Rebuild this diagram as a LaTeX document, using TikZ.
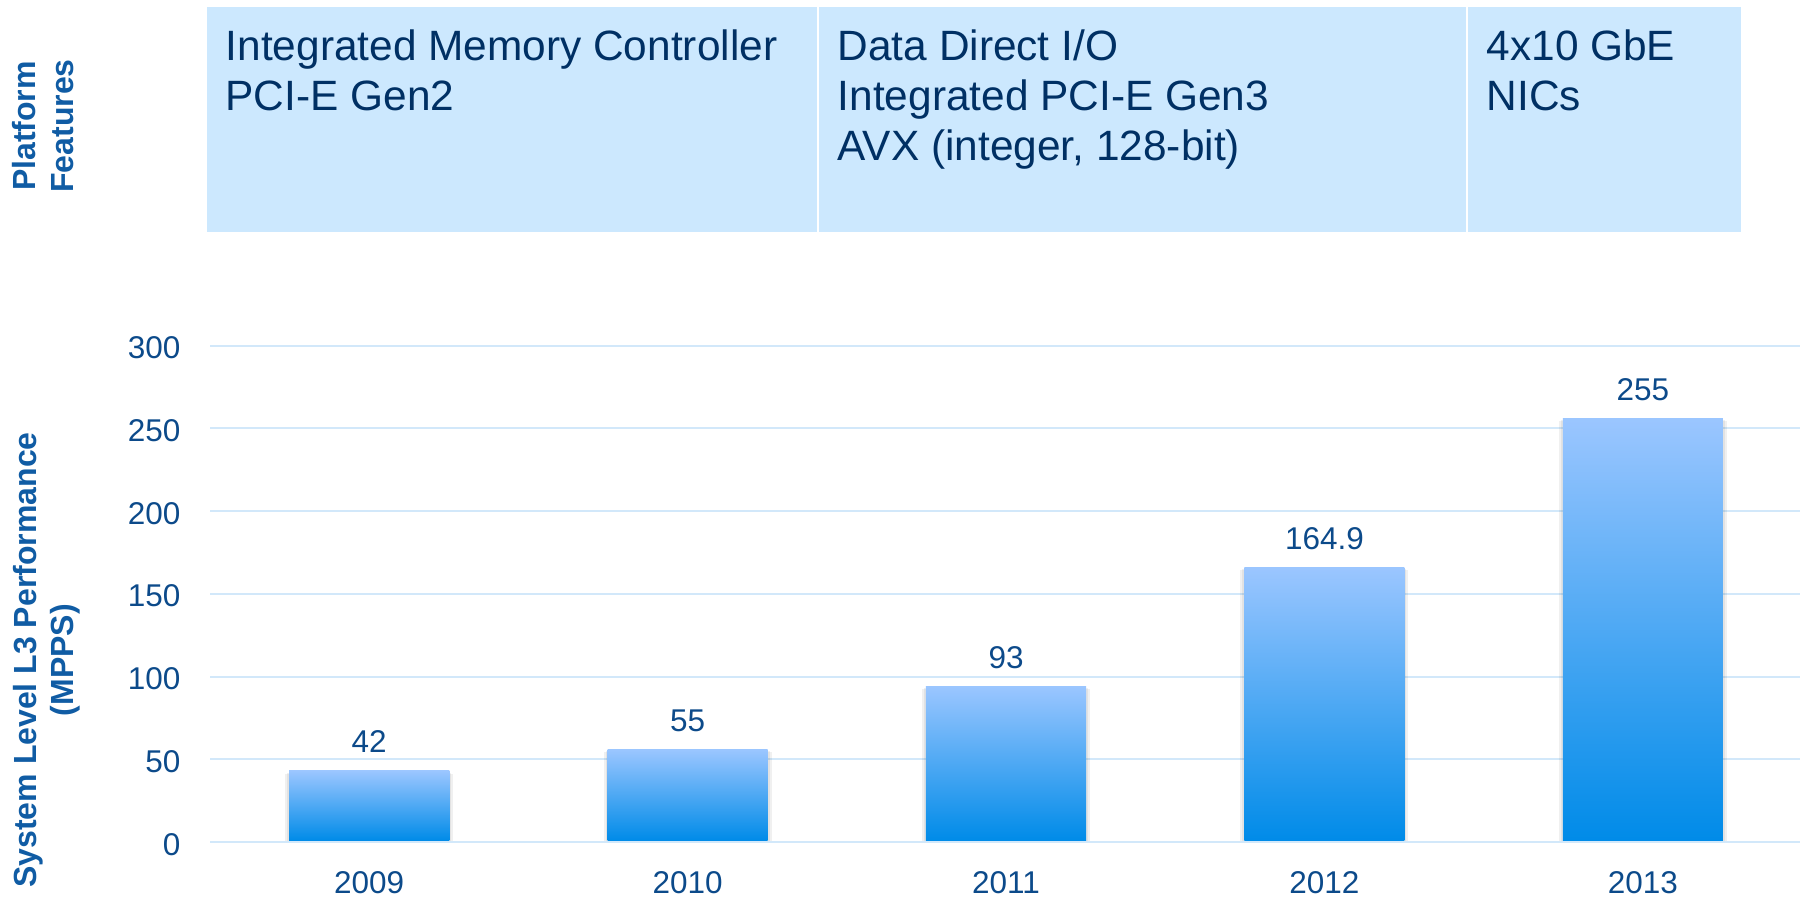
\documentclass[tikz,border=0pt]{standalone}
\usepackage{fontspec}
\setmainfont{Liberation Sans}
\usetikzlibrary{calc}
\definecolor{boxfill}{RGB}{204,232,254}
\definecolor{boxtext}{RGB}{0,48,100}
\definecolor{axtext}{RGB}{12,74,138}
\definecolor{titletext}{RGB}{16,92,164}
\definecolor{gridc}{RGB}{210,232,250}
\definecolor{bartop}{RGB}{155,198,255}
\definecolor{barbot}{RGB}{0,139,232}
\begin{document}
\begin{tikzpicture}[x=0.01cm,y=-0.01cm,
  featbox/.style={fill=boxfill, draw=none, inner sep=0pt, anchor=north west, minimum height=2.25cm},
  feattext/.style={text=boxtext, font=\fontsize{12.06}{14.23}\selectfont, align=left, inner sep=0pt, anchor=north west},
  ticklbl/.style={text=axtext, font=\fontsize{8.95}{10.7}\selectfont, inner sep=0pt},
  axtitle/.style={text=titletext, font=\bfseries\fontsize{9.1}{10.67}\selectfont, align=center, inner sep=0pt, rotate=90},
  gridline/.style={draw=gridc, line width=0.02cm},
  barbox/.style={top color=bartop, bottom color=barbot, draw=none, inner sep=0pt, anchor=south, minimum width=1.6cm},
  barshadow/.style={fill=black, opacity=0.06},
]
\useasboundingbox (0,0) rectangle (1800,900);

% feature boxes
\node[featbox, minimum width=6.10cm] (f1) at (206,6) {};
\node[featbox, minimum width=6.47cm] (f2) at (818,6) {};
\node[featbox, minimum width=2.73cm] (f3) at (1467,6) {};
\node[feattext] (t1) at ($(f1.north west)+(19,23)$) {Integrated Memory Controller\\PCI-E Gen2};
\node[feattext] (t2) at ($(f2.north west)+(19,23)$) {Data Direct I/O\\Integrated PCI-E Gen3\\AVX (integer, 128-bit)};
\node[feattext] (t3) at ($(f3.north west)+(19,23)$) {4x10 GbE\\NICs};

% axis titles
\node[axtitle] (pf) at (42.8,126) {Platform\\Features};
\node[axtitle] (yt) at (46.7,660) {System Level L3 Performance\\(MPPS)};

% grid and ticks
\foreach \v in {0,50,...,300}{
  \node[ticklbl, anchor=base east] (tick\v) at (181,{842-\v*1.6543+13}) {\v};
  \draw[gridline] (210,{842-\v*1.6543}) -- (1800,{842-\v*1.6543});
}

% bars
\foreach \yr/\val/\cx in {2009/42/369.2, 2010/55/687.6, 2011/93/1006.0, 2012/164.9/1324.4, 2013/255/1642.8}{
  \pgfmathsetmacro{\h}{\val*0.016543}
  \pgfmathsetmacro{\ty}{841-\val*1.6543}
  \fill[barshadow] ({\cx-84},{\ty+2}) rectangle ({\cx+84},841);
  \fill[barshadow] ({\cx-82},{\ty+1}) rectangle ({\cx+82},841);
  \node[barbox, minimum height=\h cm] (bar\yr) at (\cx,841) {};
  \node[ticklbl, anchor=base] (val\yr) at (\cx,{\ty-19}) {\val};
  \node[ticklbl, anchor=base] (yr\yr) at (\cx,893) {\yr};
}
\end{tikzpicture}
\end{document}
